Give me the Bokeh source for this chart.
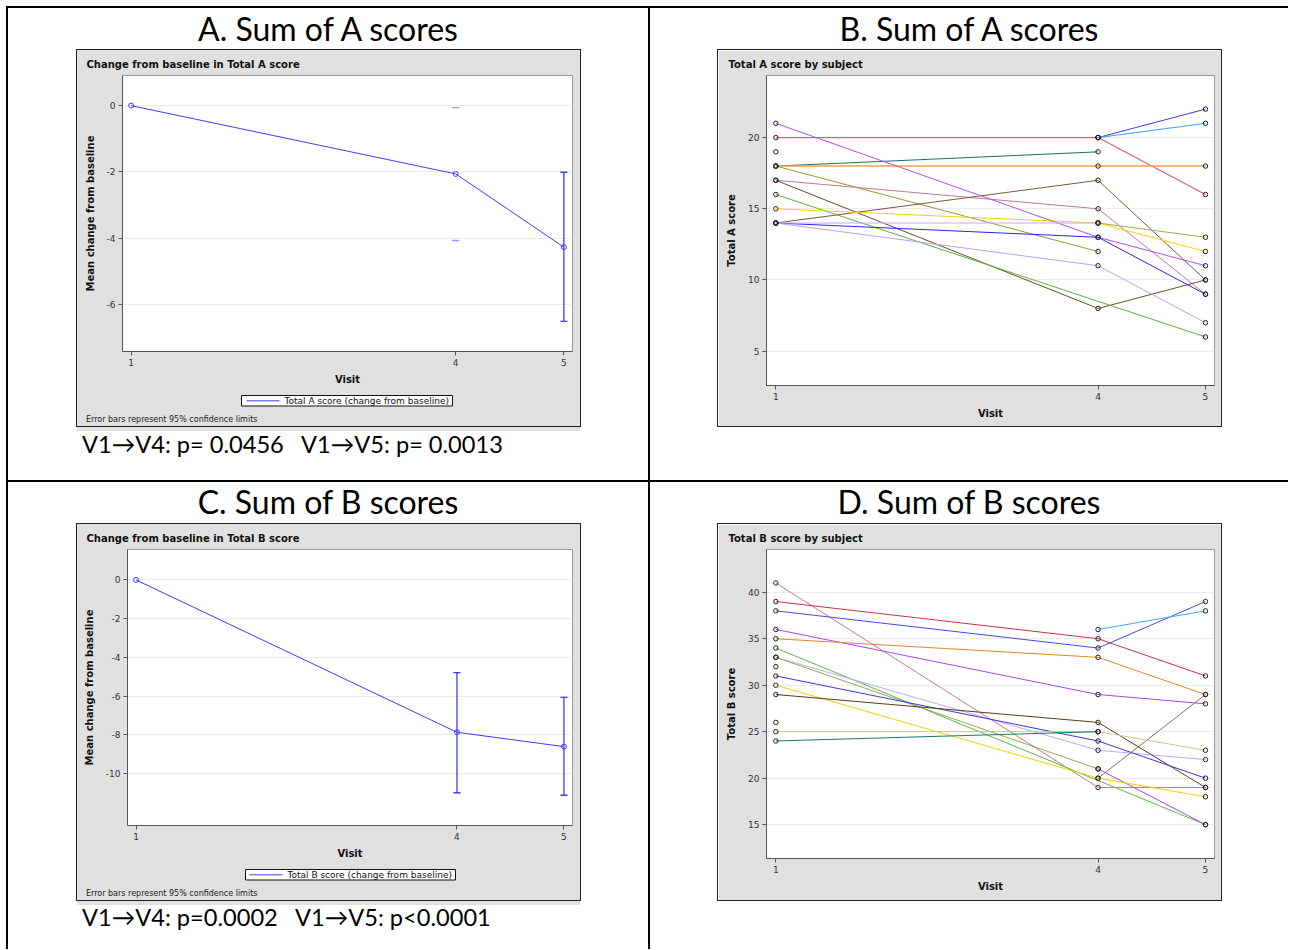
from bokeh.plotting import figure
from bokeh.models import FixedTicker, PrintfTickFormatter, Spacer, Div
from bokeh.core.properties import value
from bokeh.layouts import row, column
from bokeh.embed import file_html
from bokeh.resources import INLINE

# ---------------- data ----------------
visits = [1, 4, 5]
visit_ticks = [1, 4, 5]

# A: mean change from baseline, Total A score (95% CI)
a_mean = [0.0, -2.06, -4.27]
a_lower = [None, -4.07, -6.51]
a_upper = [None, -0.06, -2.01]
a_yticks = [-6, -4, -2, 0]

# C: mean change from baseline, Total B score (95% CI)
c_mean = [0.0, -7.86, -8.60]
c_lower = [None, -10.98, -11.11]
c_upper = [None, -4.78, -6.06]
c_yticks = [-10, -8, -6, -4, -2, 0]

# B: Total A score by subject (visit 1, 4, 5; None = missing)
b_subjects = [
    [20, 20, 16],
    [None, 20, 22],
    [None, 20, 21],
    [19, None, None],
    [18, 19, None],
    [18, 18, 18],
    [18, 12, None],
    [17, 15, 9],
    [17, 8, 10],
    [14, 17, 10],
    [16, None, 6],
    [15, 14, 12],
    [21, 13, 11],
    [14, 13, 9],
    [14, 14, None],
    [None, 14, 13],
    [14, 11, 7],
]
b_yticks = [5, 10, 15, 20]

# D: Total B score by subject (visit 1, 4, 5; None = missing)
d_subjects = [
    [41, 19, 19],
    [39, 35, 31],
    [38, 34, 39],
    [None, 36, 38],
    [36, 29, 28],
    [35, 33, 29],
    [34, None, 15],
    [33, 23, 22],
    [33, 21, None],
    [None, 21, 15],
    [32, None, None],
    [31, 24, 20],
    [30, 20, 18],
    [29, 26, 19],
    [None, 20, 29],
    [26, None, None],
    [25, 25, 23],
    [24, 25, None],
]
d_yticks = [15, 20, 25, 30, 35, 40]

# text
a_legend = "Total A score (change from baseline)"
c_legend = "Total B score (change from baseline)"
footnote = "Error bars represent 95% confidence limits"

# ---------------- styles ----------------
b_colors = ["#e06070", "#3a3af0", "#3aa0ff", "#888888", "#1f6f60", "#f0a448",
            "#9a9a2a", "#c07898", "#6b4a2a", "#7a5a3a", "#5cb040", "#f2d200",
            "#b050f0", "#2828e8", "#c8a8f8", "#a8a850", "#b8a0f8"]
b_widths = [1.2, 1, 1, 1, 1, 1.6, 1, 1, 1, 1, 1, 1, 1, 1, 1, 1, 1]
d_colors = ["#c87890", "#d03048", "#4848f0", "#40a8ff", "#a848e8", "#e08828",
            "#58b848", "#c0a8f8", "#98a848", "#a848e0", "#888888", "#3838e8",
            "#f0d000", "#5a3a1a", "#8a7058", "#888888", "#c8c890", "#1a7a6a"]
a_stem_alpha = [0.0, 0.0, 1.0]
a_cap_alpha = [0.0, 0.55, 1.0]
c_stem_alpha = [0.0, 1.0, 1.0]
c_cap_alpha = [0.0, 1.0, 1.0]

FONT = "DejaVu Sans"
BOX_GRAY = "#e0e0e0"
BLUE = "#3c3cff"
BIG_FONT = "Lato"


def bar(w, h, color="#000000"):
    return Spacer(width=w, height=h, margin=0, styles={"background-color": color})


def make_fig(title, toff, xr, yr, left, right, height, bottom, ylabel, yticks):
    p = figure(width=503, height=height, x_range=xr, y_range=yr,
               output_backend="svg", toolbar_location=None,
               min_border_left=left, min_border_right=right,
               min_border_top=24, min_border_bottom=bottom,
               border_fill_color=BOX_GRAY, background_fill_color="white",
               outline_line_color="#9a9a9a", title=title)
    p.title.text_font = FONT
    p.title.text_font_size = "10px"
    p.title.text_font_style = "bold"
    p.title.align = "left"
    p.title.offset = toff
    p.title.standoff = 12
    p.title.text_color = "#111111"
    p.xaxis.ticker = FixedTicker(ticks=visit_ticks)
    p.yaxis.ticker = FixedTicker(ticks=yticks)
    p.yaxis.formatter = PrintfTickFormatter(format="%d")
    p.xaxis.axis_label = "Visit"
    p.yaxis.axis_label = ylabel
    for ax in (p.xaxis[0], p.yaxis[0]):
        ax.axis_label_text_font = FONT
        ax.axis_label_text_font_size = "10px"
        ax.axis_label_text_font_style = "bold"
        ax.axis_label_text_color = "#111111"
        ax.major_label_text_font = FONT
        ax.major_label_text_font_size = "9px"
        ax.major_label_text_color = "#333333"
        ax.major_tick_in = 0
        ax.major_tick_out = 4
        ax.minor_tick_in = 0
        ax.minor_tick_out = 0
        ax.axis_line_color = "#555555"
        ax.major_tick_line_color = "#555555"
        ax.major_label_standoff = 3
    p.xaxis.axis_label_standoff = 5
    p.yaxis.axis_label_standoff = 8
    p.xgrid.visible = False
    p.ygrid.grid_line_color = "#ebebeb"
    return p


def legend_strip(label, left, right, box_l, box_r, line_x0, line_x1, text_x):
    # legend box under the mean-change chart. Its frame is aligned with the chart
    # frame above, so the x range is in pixel-like units of the strip (y downward).
    s = figure(width=503, height=20, x_range=(left, 503 - right), y_range=(20, 0),
               output_backend="svg", toolbar_location=None, min_border=0,
               min_border_left=left, min_border_right=right,
               border_fill_color=BOX_GRAY, background_fill_color=BOX_GRAY,
               outline_line_color=None, x_axis_type=None, y_axis_type=None)
    s.xgrid.visible = False
    s.ygrid.visible = False
    s.quad(left=[box_l], right=[box_r], top=[5], bottom=[15.5], fill_color="white",
           line_color="#111111", line_width=1)
    s.segment(x0=[line_x0], y0=[10.3], x1=[line_x1], y1=[10.3], line_color=BLUE, line_width=1)
    s.text(x=[text_x], y=[10.5], text=[label], text_font=value(FONT), text_font_size="9px",
           text_baseline="middle", text_align="left", text_color="#111111")
    return s


def note_div(txt):
    html = (f'<div style="width:503px;height:16px;background:{BOX_GRAY};box-sizing:border-box;'
            f"padding-left:9px;font-family:'{FONT}';font-size:8px;line-height:10px;"
            f'color:#222;white-space:nowrap;">{txt}</div>')
    return Div(text=html, width=503, height=16, margin=0,
               styles={"background-color": BOX_GRAY})


def mean_chart(title, toff, yr, left, ylabel, yticks, mean, lower, upper,
               stem_alpha, cap_alpha):
    p = make_fig(title, toff, (0.92, 5.08), yr, left, 8, 340, 39, ylabel, yticks)
    p.line(visits, mean, line_color=BLUE, line_width=1)
    idx = [i for i in range(len(visits)) if lower[i] is not None]
    xs = [visits[i] for i in idx]
    lo = [lower[i] for i in idx]
    hi = [upper[i] for i in idx]
    sa = [stem_alpha[i] for i in idx]
    ca = [cap_alpha[i] for i in idx]
    p.segment(x0=xs, y0=lo, x1=xs, y1=hi, line_color=BLUE, line_width=1.3, line_alpha=sa)
    p.scatter(xs + xs, lo + hi, marker="dash", size=7, line_color=BLUE,
              line_width=1.3, line_alpha=ca + ca)
    p.scatter(visits, mean, marker="circle", size=5, fill_color=None, line_color=BLUE)
    return p


def subject_chart(title, toff, yr, ylabel, yticks, subjects, colors, widths, bottom):
    p = make_fig(title, toff, (0.913, 5.084), yr, 48, 7, 376, bottom, ylabel, yticks)
    for vals, col, w in zip(subjects, colors, widths):
        xs = [v for v, y in zip(visits, vals) if y is not None]
        ys = [y for y in vals if y is not None]
        if len(xs) > 1:
            p.line(xs, ys, line_color=col, line_width=w)
    for vals in subjects:
        xs = [v for v, y in zip(visits, vals) if y is not None]
        ys = [y for y in vals if y is not None]
        p.scatter(xs, ys, marker="circle", size=4.5, fill_color=None,
                  line_color="#222222", line_width=1)
    return p


def boxed(*items):
    dark = "#222222"
    w = 505
    h = sum(it.height for it in items)
    if len(items) == 1:
        inner = items[0]
    else:
        inner = column(*items, styles={"background-color": BOX_GRAY})
    return column(bar(w, 1, dark),
                  row(bar(1, h, dark), inner, bar(1, h, dark)),
                  bar(w, 1, dark))


def title_div(txt, w, h, shift=0):
    html = (f'<div style="width:{w}px;height:{h}px;line-height:{h}px;text-align:center;'
            f'font-family:{BIG_FONT};font-size:32px;color:#000;white-space:nowrap;'
            f'position:relative;top:{shift}px;">{txt}</div>')
    return Div(text=html, width=w, height=h, margin=0)


def ptext_div(txt, w, h, lh):
    html = (f'<div style="width:{w - 74}px;height:{h}px;line-height:{lh}px;padding-left:74px;'
            f'font-family:{BIG_FONT};font-size:23.6px;color:#000;white-space:pre;">{txt}</div>')
    return Div(text=html, width=w, height=h, margin=0)


figA = mean_chart("Change from baseline in Total A score", -36, (-7.42, 0.91), 45,
                  "Mean change from baseline", a_yticks, a_mean, a_lower, a_upper,
                  a_stem_alpha, a_cap_alpha)
legA = legend_strip(a_legend, 45, 8, 164, 375, 169, 202, 207)
figC = mean_chart("Change from baseline in Total B score", -41, (-12.67, 1.57), 50,
                  "Mean change from baseline", c_yticks, c_mean, c_lower, c_upper,
                  c_stem_alpha, c_cap_alpha)
legC = legend_strip(c_legend, 50, 8, 168, 378, 172, 205, 210)
figB = subject_chart("Total A score by subject", -38, (2.59, 24.36), "Total A score",
                     b_yticks, b_subjects, b_colors, b_widths, 41)
figD = subject_chart("Total B score by subject", -38, (11.36, 44.6), "Total B score",
                     d_yticks, d_subjects, d_colors, [1] * len(d_subjects), 42)

cellA = column(title_div("A. Sum of A scores", 640, 41, 0),
               row(Spacer(width=68, height=378, margin=0),
                   boxed(figA, legA, note_div(footnote))),
               ptext_div("V1\u2192V4: p= 0.0456   V1\u2192V5: p= 0.0013", 640, 53, 34))
cellB = column(title_div("B. Sum of A scores", 638, 41, 0),
               row(Spacer(width=67, height=378, margin=0), boxed(figB)),
               Spacer(width=638, height=53, margin=0))
cellC = column(title_div("C. Sum of B scores", 640, 41, -1),
               row(Spacer(width=68, height=378, margin=0),
                   boxed(figC, legC, note_div(footnote))),
               ptext_div("V1\u2192V4: p=0.0002   V1\u2192V5: p&lt;0.0001", 640, 48, 32))
cellD = column(title_div("D. Sum of B scores", 638, 41, -1),
               row(Spacer(width=67, height=378, margin=0), boxed(figD)),
               Spacer(width=638, height=48, margin=0))

table = column(
    bar(1282, 2),
    row(bar(2, 941),
        column(row(cellA, bar(2, 472), cellB),
               bar(1280, 2),
               row(cellC, bar(2, 467), cellD))),
)
root = column(Spacer(width=1288, height=6, margin=0),
              row(Spacer(width=6, height=943, margin=0), table))

open("out.html", "w").write(file_html(root, INLINE))
